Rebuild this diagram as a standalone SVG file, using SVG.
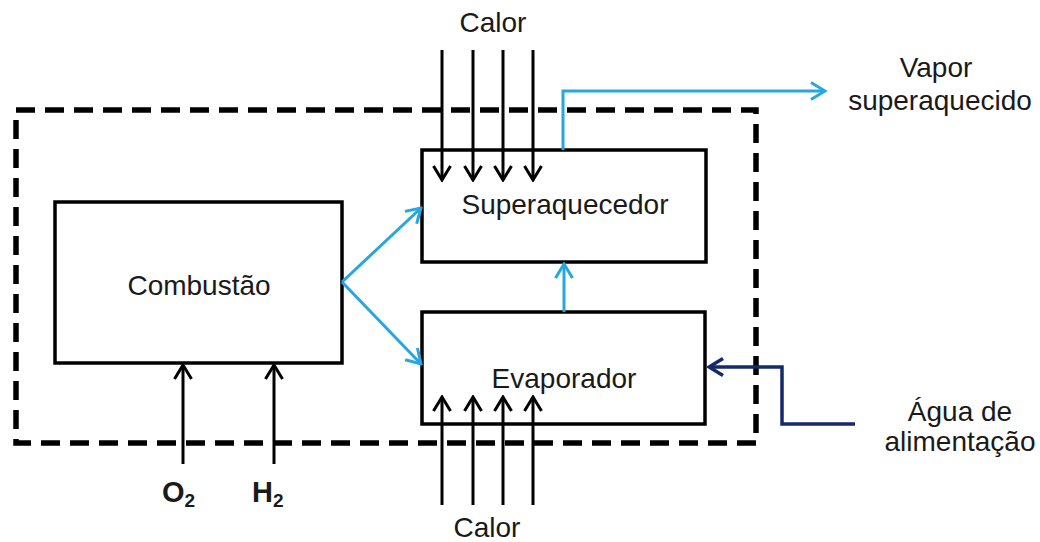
<svg xmlns="http://www.w3.org/2000/svg" width="1040" height="542" viewBox="0 0 1040 542">
<style>
.box{fill:#fff;stroke:#000;stroke-width:3.5}
.t{font-family:"Liberation Sans",Arial,sans-serif;font-size:28px;fill:#1a1a1a;text-anchor:middle}
.b{font-family:"Liberation Sans",Arial,sans-serif;font-size:29px;font-weight:bold;fill:#1a1a1a}
.k{fill:none;stroke:#000;stroke-width:3}
.bl{fill:none;stroke:#27a6df;stroke-width:3}
.nv{fill:none;stroke:#152a6b;stroke-width:3.5}
</style>
<defs>
<marker id="ak" viewBox="0 0 20 20" refX="18" refY="10" markerWidth="20" markerHeight="20" markerUnits="userSpaceOnUse" orient="auto"><path d="M4,1.5 L18,10 L4,18.5" fill="none" stroke="#000" stroke-width="3"/></marker>
<marker id="ab" viewBox="0 0 20 20" refX="18" refY="10" markerWidth="20" markerHeight="20" markerUnits="userSpaceOnUse" orient="auto"><path d="M4,1.5 L18,10 L4,18.5" fill="none" stroke="#27a6df" stroke-width="3"/></marker>
<marker id="an" viewBox="0 0 20 20" refX="18" refY="10" markerWidth="20" markerHeight="20" markerUnits="userSpaceOnUse" orient="auto"><path d="M4,1.5 L18,10 L4,18.5" fill="none" stroke="#152a6b" stroke-width="3.5"/></marker>
</defs>
<rect width="1040" height="542" fill="#fff"/>
<rect id="boundary" x="16" y="110" width="740" height="333" fill="none" stroke="#000" stroke-width="5.5" stroke-dasharray="19 10"/>
<g id="combustao"><rect class="box" x="55" y="202" width="287" height="161"/><text class="t" x="199" y="295">Combustão</text></g>
<g id="superaquecedor"><rect class="box" x="422" y="150" width="284" height="112"/><text class="t" x="565" y="214">Superaquecedor</text></g>
<g id="evaporador"><rect class="box" x="422" y="312" width="283" height="112"/><text class="t" x="564" y="388">Evaporador</text></g>
<g id="labels">
<text class="t" x="493" y="32">Calor</text>
<text class="t" x="487" y="537">Calor</text>
<text class="t" x="936" y="77">Vapor</text>
<text class="t" x="940" y="110">superaquecido</text>
<text class="t" x="960" y="421">Água de</text>
<text class="t" x="960" y="451">alimentação</text>
<text class="b" x="162" y="502">O<tspan font-size="19" dy="5">2</tspan></text>
<text class="b" x="252" y="502">H<tspan font-size="19" dy="5">2</tspan></text>
</g>
<g id="connectors">
<line class="k" x1="442" y1="50" x2="442" y2="180" marker-end="url(#ak)"/>
<line class="k" x1="473" y1="50" x2="473" y2="180" marker-end="url(#ak)"/>
<line class="k" x1="503" y1="50" x2="503" y2="180" marker-end="url(#ak)"/>
<line class="k" x1="533" y1="50" x2="533" y2="180" marker-end="url(#ak)"/>
<line class="k" x1="442" y1="505" x2="442" y2="397" marker-end="url(#ak)"/>
<line class="k" x1="473" y1="505" x2="473" y2="397" marker-end="url(#ak)"/>
<line class="k" x1="503" y1="505" x2="503" y2="397" marker-end="url(#ak)"/>
<line class="k" x1="533" y1="505" x2="533" y2="397" marker-end="url(#ak)"/>
<line class="k" x1="183" y1="464" x2="183" y2="365" marker-end="url(#ak)"/>
<line class="k" x1="274" y1="464" x2="274" y2="365" marker-end="url(#ak)"/>
<line class="bl" x1="342" y1="282" x2="421" y2="208" marker-end="url(#ab)"/>
<line class="bl" x1="342" y1="282" x2="421" y2="364" marker-end="url(#ab)"/>
<line class="bl" x1="564" y1="312" x2="564" y2="264" marker-end="url(#ab)"/>
<path class="bl" d="M563,150 V91 H825" marker-end="url(#ab)"/>
<path class="nv" d="M855,424 H782 V367 H709" marker-end="url(#an)"/>
</g>
</svg>
